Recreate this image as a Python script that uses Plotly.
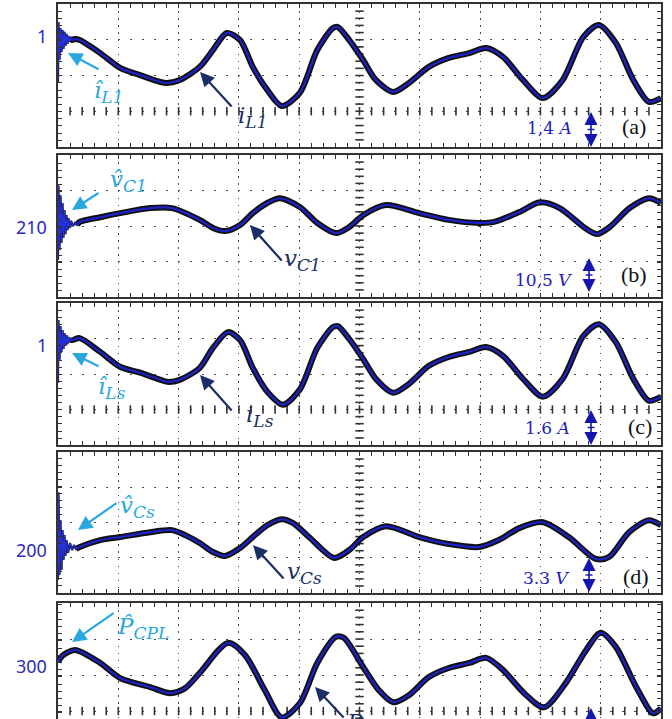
import numpy as np
import plotly.graph_objects as go

W, H = 672, 719

# ---------------- data (time in s, 0.1 s/div) ----------------
t_a = [0, 0.0008, 0.0025, 0.0041, 0.0058, 0.0075, 0.0091, 0.0108, 0.0124, 0.0141, 0.0158, 0.0174, 0.0191, 0.0207,
       0.023, 0.028, 0.036, 0.070, 0.103, 0.136, 0.170, 0.181, 0.202, 0.235,
       0.257, 0.280, 0.302, 0.323, 0.347, 0.371, 0.401, 0.430, 0.456, 0.464,
       0.483, 0.506, 0.527, 0.556, 0.582, 0.615, 0.648, 0.682, 0.710, 0.738,
       0.771, 0.804, 0.837, 0.871, 0.897, 0.925, 0.954, 0.980, 1.000]
i_L1 = [-0.84, 1.55, 0.06, 1.31, 0.37, 1.23, 0.49, 1.16, 0.61, 1.08, 0.69, 1.0, 0.77, 0.96,
        0.84, 0.88, 0.84, 0.33, -0.25, -0.53, -0.80, -0.84, -0.72, -0.21,
        0.45, 1.12, 0.84, -0.21, -1.11, -1.74, -1.23, 0.45, 1.31, 1.35,
        0.84, 0.06, -0.72, -1.19, -0.84, -0.21, 0.14, 0.33, 0.53, 0.18,
        -0.72, -1.43, -0.72, 0.96, 1.43, 0.73, -0.72, -1.58, -1.43]

t_b = [0, 0.0008, 0.0025, 0.0041, 0.0058, 0.0075, 0.0091, 0.0108, 0.0124, 0.0141, 0.0158, 0.0174, 0.0191,
       0.0216, 0.0249, 0.0282, 0.0315,
       0.036, 0.070, 0.103, 0.153, 0.189, 0.235, 0.257, 0.277, 0.302, 0.323, 0.347, 0.368, 0.401,
       0.430, 0.461, 0.483, 0.506, 0.544, 0.599, 0.648, 0.698, 0.723, 0.765, 0.799, 0.832, 0.874,
       0.894, 0.915, 0.948, 0.980, 1.000]
v_C1 = [200.3, 222.3, 203.2, 219.4, 205.3, 217.1, 206.8, 215.0, 207.9, 213.5, 209.1, 212.6, 209.7,
        211.8, 210.3, 211.2, 210.6,
        211.5, 212.9, 214.1, 215.6, 215.6, 212.1, 209.7, 208.8, 210.6, 214.1, 217.1, 218.5, 215.9,
        211.2, 208.2, 210.0, 213.5, 216.5, 214.1, 212.1, 211.2, 211.5, 214.4, 217.3, 215.6, 209.7,
        207.9, 210.0, 215.6, 218.5, 217.1]

t_c = [0, 0.0008, 0.0025, 0.0041, 0.0058, 0.0075, 0.0091, 0.0108, 0.0124, 0.0141, 0.0158, 0.0174, 0.0191, 0.0207,
       0.023, 0.036, 0.070, 0.103, 0.136, 0.170, 0.181, 0.202, 0.235, 0.257, 0.282, 0.302, 0.323,
       0.347, 0.373, 0.401, 0.430, 0.456, 0.464, 0.483, 0.506, 0.527, 0.556, 0.582, 0.615, 0.648,
       0.682, 0.710, 0.738, 0.771, 0.804, 0.837, 0.871, 0.897, 0.925, 0.954, 0.980, 1.000]
i_Ls = [-0.70, 2.12, 0.33, 1.85, 0.69, 1.67, 0.82, 1.54, 0.96, 1.45, 1.04, 1.36, 1.13, 1.31,
        1.22, 1.31, 0.69, 0.02, -0.25, -0.57, -0.66, -0.57, -0.03, 0.87, 1.58, 1.22, -0.03,
        -1.10, -1.69, -1.01, 0.87, 1.81, 1.85, 1.27, 0.37, -0.52, -1.15, -0.75, 0.06, 0.46,
        0.69, 0.91, 0.51, -0.52, -1.33, -0.52, 1.40, 1.94, 1.13, -0.52, -1.51, -1.33]

t_d = [0, 0.0008, 0.0025, 0.0041, 0.0058, 0.0075, 0.0091, 0.0108, 0.0124, 0.0141, 0.0166, 0.0199,
       0.0232, 0.0265, 0.0298,
       0.036, 0.070, 0.103, 0.153, 0.189, 0.211, 0.235, 0.257, 0.277, 0.302, 0.323, 0.347, 0.371,
       0.390, 0.418, 0.458, 0.483, 0.506, 0.544, 0.599, 0.648, 0.698, 0.731, 0.765, 0.804, 0.847,
       0.892, 0.914, 0.947, 0.980, 1.000]
v_Cs = [197.21, 205.39, 197.68, 202.79, 198.14, 201.86, 199.07, 201.39, 199.44, 200.93, 199.72, 200.65,
        200.00, 200.46, 200.09,
        200.28, 200.93, 201.21, 201.67, 201.86, 201.39, 200.65, 199.81, 199.44, 200.19, 201.21, 202.32, 202.88,
        202.51, 201.12, 199.26, 200.00, 201.21, 202.23, 201.21, 200.56, 200.28, 200.93, 202.05, 202.60, 201.21,
        199.16, 199.35, 201.67, 202.79, 202.32]

t_e = [0, 0.007, 0.028, 0.070, 0.103, 0.153, 0.186, 0.211, 0.235, 0.282, 0.310, 0.343, 0.371, 0.401,
       0.430, 0.461, 0.474, 0.506, 0.532, 0.556, 0.582, 0.615, 0.648, 0.682, 0.710, 0.738, 0.773,
       0.806, 0.842, 0.876, 0.900, 0.925, 0.959, 0.987, 1.000]
P_CPL = [304.5, 311.2, 317.9, 303.4, 286.6, 276.5, 269.8, 275.4, 292.2, 325.7, 312.3, 273.1, 242.9, 258.6,
         303.4, 332.5, 331.3, 298.9, 273.1, 259.7, 267.6, 287.7, 297.8, 303.4, 309.0, 295.5, 269.8,
         254.1, 281.0, 317.9, 336.9, 321.3, 276.5, 247.4, 253.0]

series = [(t_a, i_L1), (t_b, v_C1), (t_c, i_Ls), (t_d, v_Cs), (t_e, P_CPL)]
transient_len = [14, 17, 14, 15, 0]   # number of start-up ringing samples

# per-panel scale (units/div) and labelled level
tick_labels = ["1", "210", "1", "200", "300"]
label_values = [1, 210, 1, 200, 300]
div_scale = [1.4, 10.5, 1.6, 3.3, 40]
scale_text = ["1,4 <i>A</i>", "10,5 <i>V</i>", "1.6 <i>A</i>", "3.3 <i>V</i>", ""]
panel_tags = ["(a)", "(b)", "(c)", "(d)", "(e)"]

# ---------------- layout geometry (pixels) ----------------
X0, X1 = 58, 661
tops = [4, 155, 303, 452, 603]
bots = [147, 297, 445, 593, 747]
label_py = [36, 227, 345, 550, 666]

def X(px):
    return px / W

def Y(py):
    return 1 - py / H

BLUE = "#2020c0"
LIGHT = "#29a8e0"
NAVY = "#1a2f66"
GRID = "#4a4a4a"

fig = go.Figure()
layout = dict(width=W, height=H, margin=dict(l=0, r=0, t=0, b=0),
              paper_bgcolor="white", plot_bgcolor="white", showlegend=False,
              hovermode=False)
shapes = []
annotations = []

for i in range(5):
    xa = "xaxis" if i == 0 else f"xaxis{i+1}"
    ya = "yaxis" if i == 0 else f"yaxis{i+1}"
    xr = "x" if i == 0 else f"x{i+1}"
    yr = "y" if i == 0 else f"y{i+1}"
    s = div_scale[i]
    per_px = 4 * s / (bots[i] - tops[i])
    r0 = label_values[i] - (bots[i] - label_py[i]) * per_px
    r1 = r0 + 4 * s
    vis_bot = min(bots[i], H)
    rvis = label_values[i] - (vis_bot - label_py[i]) * per_px

    last = (i == 4)
    layout[xa] = dict(domain=[X(X0), X(X1)], range=[0, 1], anchor=yr,
                      showgrid=True, gridcolor=GRID, gridwidth=1.3, griddash="1.5px,5.6px",
                      tick0=0, dtick=0.1, ticks="inside", ticklen=4, tickwidth=1.2,
                      tickcolor="#333", showticklabels=False, zeroline=False,
                      showline=True, linecolor="#333", linewidth=1.6,
                      mirror=False if last else "allticks",
                      side="top" if last else "bottom",
                      minor=dict(dtick=0.02, ticks="inside", ticklen=4, tickwidth=1.2,
                                 tickcolor="#333", showgrid=False))
    layout[ya] = dict(domain=[Y(vis_bot), Y(tops[i])], range=[rvis, r1], anchor=xr,
                      showgrid=True, gridcolor=GRID, gridwidth=1.3, griddash="2px,10px",
                      tick0=r0, dtick=s, ticks="inside", ticklen=4, tickwidth=1.2,
                      tickcolor="#333", showticklabels=False, zeroline=False,
                      showline=True, linecolor="#333", linewidth=1.6, mirror="allticks",
                      minor=dict(dtick=s / 5, ticks="inside", ticklen=4, tickwidth=1.2,
                                 tickcolor="#333", showgrid=False))

    # centre vertical axis with tick dashes
    ys = [r0 + k * s / 5 for k in range(1, 20) if rvis < r0 + k * s / 5 < r1]
    fig.add_trace(go.Scatter(x=[0.5] * len(ys), y=ys, xaxis=xr, yaxis=yr, mode="markers",
                             marker=dict(symbol="line-ew", size=6, line=dict(width=1.6, color="#333"))))
    if i in (0, 2, 4):
        xs = [k * 0.02 for k in range(1, 50)]
        fig.add_trace(go.Scatter(x=xs, y=[r0 + s] * len(xs), xaxis=xr, yaxis=yr, mode="markers",
                                 marker=dict(symbol="line-ns", size=6, line=dict(width=1.6, color="#333"))))

    t, v = series[i]
    n = transient_len[i]
    if n:
        fig.add_trace(go.Scatter(x=t[:n + 1], y=v[:n + 1], xaxis=xr, yaxis=yr, mode="lines",
                                 line=dict(color="#111111", width=2.2)))
    k0 = max(n - 1, 0)
    fig.add_trace(go.Scatter(x=t[k0:], y=v[k0:], xaxis=xr, yaxis=yr, mode="lines",
                             line=dict(color="#111111", width=6, shape="spline", smoothing=0.8)))
    if n:
        fig.add_trace(go.Scatter(x=t[:n + 1], y=v[:n + 1], xaxis=xr, yaxis=yr, mode="lines",
                                 line=dict(color="#2630d8", width=1.2)))
    fig.add_trace(go.Scatter(x=t[k0:], y=v[k0:], xaxis=xr, yaxis=yr, mode="lines",
                             line=dict(color="#1e22c8", width=2.2, shape="spline", smoothing=0.8)))

    # left level label
    annotations.append(dict(x=X(49), y=Y(label_py[i]), xref="paper", yref="paper", text=tick_labels[i],
                            showarrow=False, xanchor="right", yanchor="middle",
                            font=dict(family="Noto Sans", size=18, color="#2b2bb8")))

def label(txt, px, py, **font):
    annotations.append(dict(x=X(px), y=Y(py), xref="paper", yref="paper", text=txt, showarrow=False,
                            xanchor="center", yanchor="middle", font=font))

# scale labels, double arrows and panel tags
scale_pos = [(549, 128), (543, 280), (547, 428), (546, 578)]
for (px, py), txt in zip(scale_pos, scale_text[:4]):
    label(txt, px, py, family="DejaVu Serif", size=17, color=BLUE)

tag_pos = [(634, 127), (634, 274), (640, 427), (636, 576), (636, 730)]
for (px, py), txt in zip(tag_pos, panel_tags):
    label(txt, px, py, family="Liberation Serif", size=22, color="#111")

arrow_pos = [(591, 112, 147), (589, 258, 292), (591, 410, 445), (589, 558, 592), (591, 708, 743)]
AC = "#1414b0"
for xc, yt, yb in arrow_pos:
    th, hw = 13, 6.5
    shapes.append(dict(type="path", xref="paper", yref="paper", fillcolor=AC, line=dict(width=0),
                       path=f"M {X(xc)},{Y(yt)} L {X(xc-hw)},{Y(yt+th)} L {X(xc+hw)},{Y(yt+th)} Z"))
    shapes.append(dict(type="path", xref="paper", yref="paper", fillcolor=AC, line=dict(width=0),
                       path=f"M {X(xc)},{Y(yb)} L {X(xc-hw)},{Y(yb-th)} L {X(xc+hw)},{Y(yb-th)} Z"))
    shapes.append(dict(type="line", xref="paper", yref="paper", x0=X(xc), x1=X(xc),
                       y0=Y(yt + th), y1=Y(yb - th), line=dict(color=AC, width=1.6)))
    ym = (yt + yb) / 2
    shapes.append(dict(type="line", xref="paper", yref="paper", x0=X(xc - 3.5), x1=X(xc + 3.5),
                       y0=Y(ym), y1=Y(ym), line=dict(color=AC, width=1.4)))

# pointer arrows (head, tail)
pointers = [
    ((68, 53), (100, 70), LIGHT), ((200, 72), (233, 108), NAVY),
    ((72, 210), (100, 192), LIGHT), ((250, 225), (283, 262), NAVY),
    ((72, 353), (100, 367), LIGHT), ((200, 375), (233, 412), NAVY),
    ((78, 530), (118, 502), LIGHT), ((253, 545), (285, 580), NAVY),
    ((72, 642), (115, 612), LIGHT), ((315, 687), (345, 722), NAVY),
]
for (hx, hy), (tx, ty), col in pointers:
    annotations.append(dict(x=X(hx), y=Y(hy), xref="paper", yref="paper", text="",
                            showarrow=True, ax=tx - hx, ay=ty - hy, arrowhead=2, arrowsize=1.3,
                            arrowwidth=2.2, arrowcolor=col, standoff=0))

SUB = "<sub><span style='font-size:17px'><i>{}</i></span></sub>"
var_labels = [
    ("<i>\u00ee</i>" + SUB.format("L1"), 108, 92, LIGHT),
    ("<i>i</i>" + SUB.format("L1"), 252, 117, NAVY),
    ("<i>v\u0302</i>" + SUB.format("C1"), 128, 181, LIGHT),
    ("<i>v</i>" + SUB.format("C1"), 302, 260, NAVY),
    ("<i>\u00ee</i>" + SUB.format("Ls"), 112, 388, LIGHT),
    ("<i>i</i>" + SUB.format("Ls"), 260, 416, NAVY),
    ("<i>v\u0302</i>" + SUB.format("Cs"), 137, 507, LIGHT),
    ("<i>v</i>" + SUB.format("Cs"), 304, 573, NAVY),
    ("<i>P\u0302</i>" + SUB.format("CPL"), 143, 628, LIGHT),
    ("<i>P</i>" + SUB.format("CPL"), 372, 724, NAVY),
]
for txt, px, py, col in var_labels:
    label(txt, px, py, family="DejaVu Serif", size=23, color=col)

layout["shapes"] = shapes
layout["annotations"] = annotations
fig.update_layout(**layout)
fig.write_html("out.html", config={"displayModeBar": False},
               post_script="document.body.style.margin='0px';document.body.style.overflow='hidden';")
